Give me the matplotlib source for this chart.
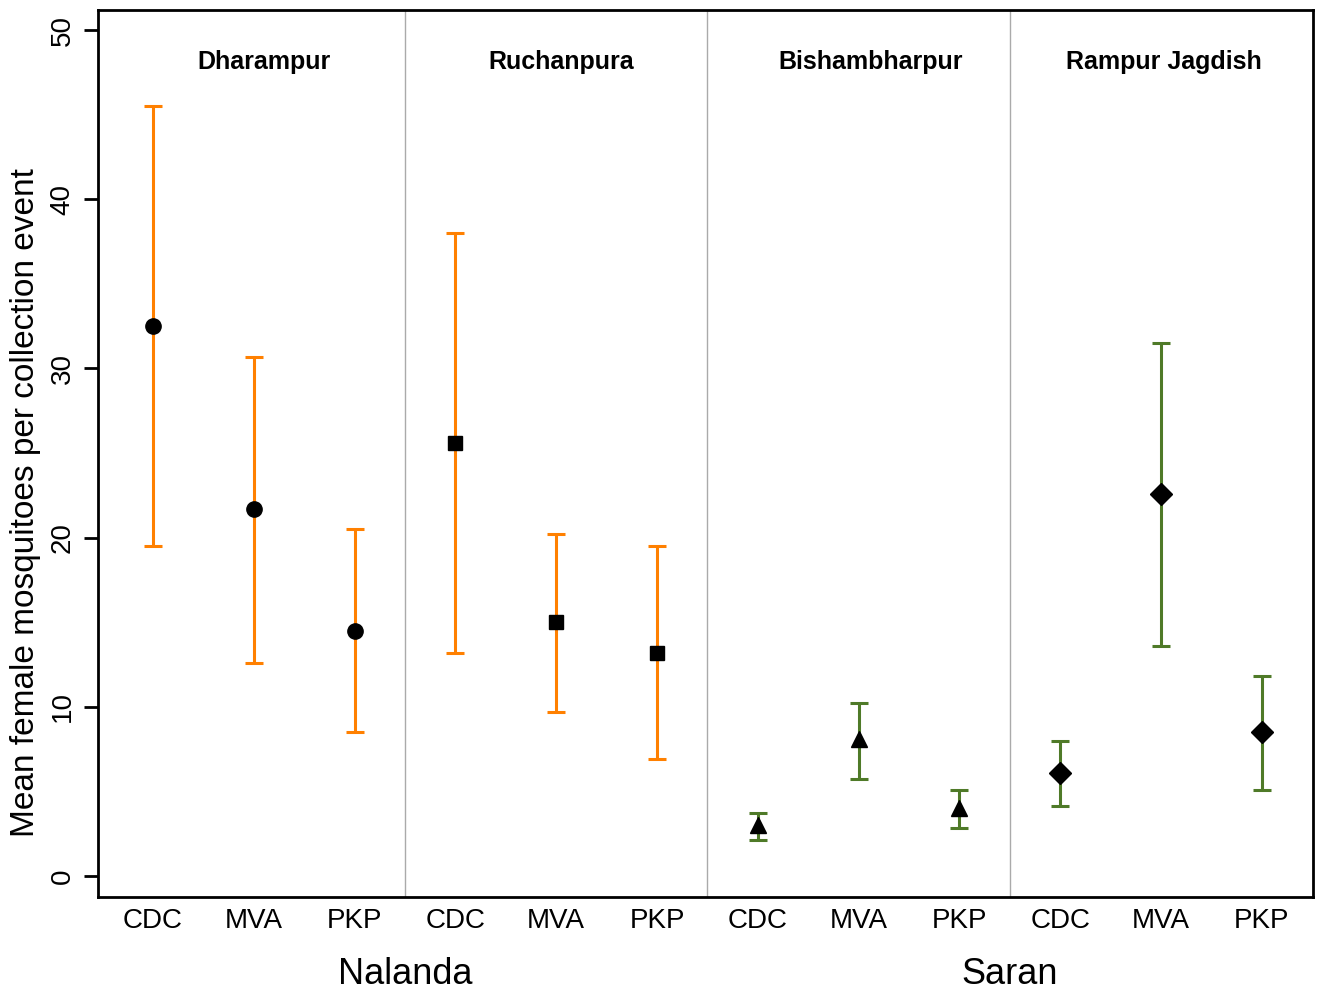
import numpy as np
import matplotlib
matplotlib.use("Agg")
import matplotlib.pyplot as plt

plt.rcParams['font.family'] = ['Liberation Sans', 'DejaVu Sans']

traps = ["CDC", "MVA", "PKP"]
sites = ["Dharampur", "Ruchanpura", "Bishambharpur", "Rampur Jagdish"]
districts = ["Nalanda", "Saran"]

# mean and 95% CI per site, in trap order CDC, MVA, PKP
means = [[32.5, 21.7, 14.5],
         [25.6, 15.0, 13.2],
         [3.0, 8.1, 4.0],
         [6.1, 22.6, 8.5]]
lower = [[19.5, 12.6, 8.5],
         [13.2, 9.7, 6.9],
         [2.1, 5.7, 2.8],
         [4.1, 13.6, 5.1]]
upper = [[45.5, 30.7, 20.5],
         [38.0, 20.2, 19.5],
         [3.7, 10.2, 5.1],
         [8.0, 31.5, 11.8]]

markers = ["o", "s", "^", "D"]
msizes = [11, 10, 11, 11]
colors = ["#ff8000", "#ff8000", "#4f7a28", "#4f7a28"]
site_label_x = [2.1, 5.05, 8.12, 11.03]

fig = plt.figure(figsize=(13.21, 9.90), dpi=100)
ax = fig.add_axes([0.0742, 0.094, 0.9197, 0.896])

for i in range(len(sites)):
    x = np.arange(3) + 1 + 3 * i
    m = np.array(means[i])
    lo = np.array(lower[i])
    hi = np.array(upper[i])
    ax.errorbar(x, m, yerr=[m - lo, hi - m], fmt="none", ecolor=colors[i],
                elinewidth=2.2, capsize=6.5, capthick=2.2, zorder=2)
    ax.plot(x, m, linestyle="none", marker=markers[i], markersize=msizes[i],
            color="black", zorder=3)
    ax.text(site_label_x[i], 48.1, sites[i], ha="center", va="center",
            fontsize=18, fontweight="bold")

for d in [3.5, 6.5, 9.5]:
    ax.axvline(d, color="#aaaaaa", linewidth=1, zorder=1)

ax.set_xlim(0.455, 12.506)
ax.set_ylim(-1.25, 51.2)
ax.set_xticks(np.arange(1, 13))
ax.set_xticklabels(traps * 4, fontsize=20, family=['Liberation Sans Narrow', 'Liberation Sans'])
ax.tick_params(axis="x", length=0, pad=8)
ax.set_yticks([0, 10, 20, 30, 40, 50])
ax.tick_params(axis="y", length=10, width=2, labelsize=20, pad=6)
for lab in ax.get_yticklabels():
    lab.set_rotation(90)
    lab.set_va("center")
for s in ax.spines.values():
    s.set_linewidth(2)

ax.set_ylabel("Mean female mosquitoes per collection event", fontsize=24)
ax.yaxis.set_label_coords(-0.047, 0.445)

ax.text(3.5, -0.088, districts[0], transform=ax.get_xaxis_transform(),
        ha="center", va="center", fontsize=26)
ax.text(9.5, -0.088, districts[1], transform=ax.get_xaxis_transform(),
        ha="center", va="center", fontsize=26)

fig.savefig("out.png", dpi=100)
